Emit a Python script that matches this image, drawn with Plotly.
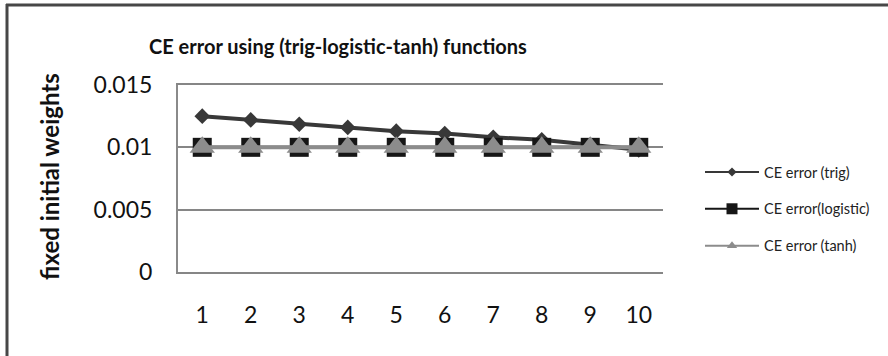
import plotly.graph_objects as go

iterations = [1, 2, 3, 4, 5, 6, 7, 8, 9, 10]
ce_trig = [0.0125, 0.0122, 0.01185, 0.0116, 0.0113, 0.0111, 0.0108, 0.0106, 0.0102, 0.0098]
ce_logistic = [0.01, 0.01, 0.01, 0.01, 0.01, 0.01, 0.01, 0.01, 0.01, 0.01]
ce_tanh = [0.01, 0.01, 0.01, 0.01, 0.01, 0.01, 0.01, 0.01, 0.01, 0.01]
y_ticks = [0, 0.005, 0.01, 0.015]
y_ticktext = ["0", "0.005", "0.01", "0.015"]
series_names = ["CE error (trig)", "CE error(logistic)", "CE error (tanh)"]
title_text = "CE error using (trig-logistic-tanh) functions"
ytitle_text = "fixed initial weights"

FONT = "Lato"
W, H = 888, 356
L, R, T, B = 178, 225, 85, 84
PW, PH = W - L - R, H - T - B

def px2paper_x(px):
    return (px - L) / PW

def px2paper_y(py):
    return (H - B - py) / PH

styles = [
    dict(color="#383838", symbol="diamond", line_w=4, size=12, leg_line=2, leg_size=7),
    dict(color="#161616", symbol="square", line_w=3, size=19, leg_line=2, leg_size=11),
    dict(color="#8c8c8c", symbol="triangle-up", line_w=4, size=22, leg_line=2, leg_size=9),
]
data = [ce_trig, ce_logistic, ce_tanh]

fig = go.Figure()
for name, ys, st in zip(series_names, data, styles):
    fig.add_trace(go.Scatter(
        x=iterations, y=ys, name=name, mode="lines+markers", showlegend=False,
        line=dict(color=st["color"], width=st["line_w"]),
        marker=dict(symbol=st["symbol"], size=st["size"], color=st["color"]),
    ))
# legend entries (no data; thinner lines and smaller markers like the original)
for i, (name, st) in enumerate(zip(series_names, styles)):
    fig.add_trace(go.Scatter(
        x=[None], y=[None], name=name, mode="lines+markers", legendgroup="g%d" % i,
        line=dict(color=st["color"], width=st["leg_line"]),
        marker=dict(symbol=st["symbol"], size=st["leg_size"], color=st["color"]),
    ))

fig.update_layout(
    width=W, height=H,
    margin=dict(l=L, r=R, t=T, b=B, pad=0),
    paper_bgcolor="white", plot_bgcolor="white",
    font=dict(family=FONT, color="#111111"),
    showlegend=True,
    legend=dict(
        x=px2paper_x(700), y=px2paper_y(156), xanchor="left", yanchor="top",
        font=dict(family=FONT, size=14.5, color="#222222"),
        tracegroupgap=15, itemwidth=54, traceorder="grouped",
        bgcolor="rgba(0,0,0,0)",
    ),
    xaxis=dict(
        type="category", tickvals=iterations, ticktext=[str(i) for i in iterations],
        range=[-0.5, 9.5],
        showgrid=False, showline=True, mirror=True, linecolor="#868686", linewidth=2,
        zeroline=False, ticks="", ticklabelstandoff=21,
        tickfont=dict(family=FONT, size=23, color="#111111"),
    ),
    yaxis=dict(
        range=[0, 0.015], tickvals=y_ticks, ticktext=y_ticktext,
        showgrid=True, gridcolor="#868686", gridwidth=2,
        showline=True, linecolor="#8a8a8a", linewidth=2,
        zeroline=False, ticks="", ticklabelstandoff=19,
        tickfont=dict(family=FONT, size=23, color="#111111"),
    ),
    annotations=[
        dict(text="<b>" + title_text + "</b>", xref="paper", yref="paper",
             x=px2paper_x(147), y=px2paper_y(46), xanchor="left", yanchor="middle",
             showarrow=False, font=dict(family=FONT, size=20, color="#111111")),
        dict(text="<b>" + ytitle_text + "</b>", xref="paper", yref="paper",
             x=px2paper_x(49), y=px2paper_y(177), xanchor="center", yanchor="middle",
             textangle=-90, showarrow=False,
             font=dict(family=FONT, size=24, color="#111111")),
    ],
    shapes=[
        dict(type="line", xref="paper", yref="paper",
             x0=px2paper_x(6), x1=px2paper_x(900), y0=px2paper_y(5), y1=px2paper_y(5),
             line=dict(color="#474747", width=3)),
        dict(type="line", xref="paper", yref="paper",
             x0=px2paper_x(7), x1=px2paper_x(7), y0=px2paper_y(4), y1=px2paper_y(370),
             line=dict(color="#474747", width=3)),
    ],
)

fig.write_html("out.html")
